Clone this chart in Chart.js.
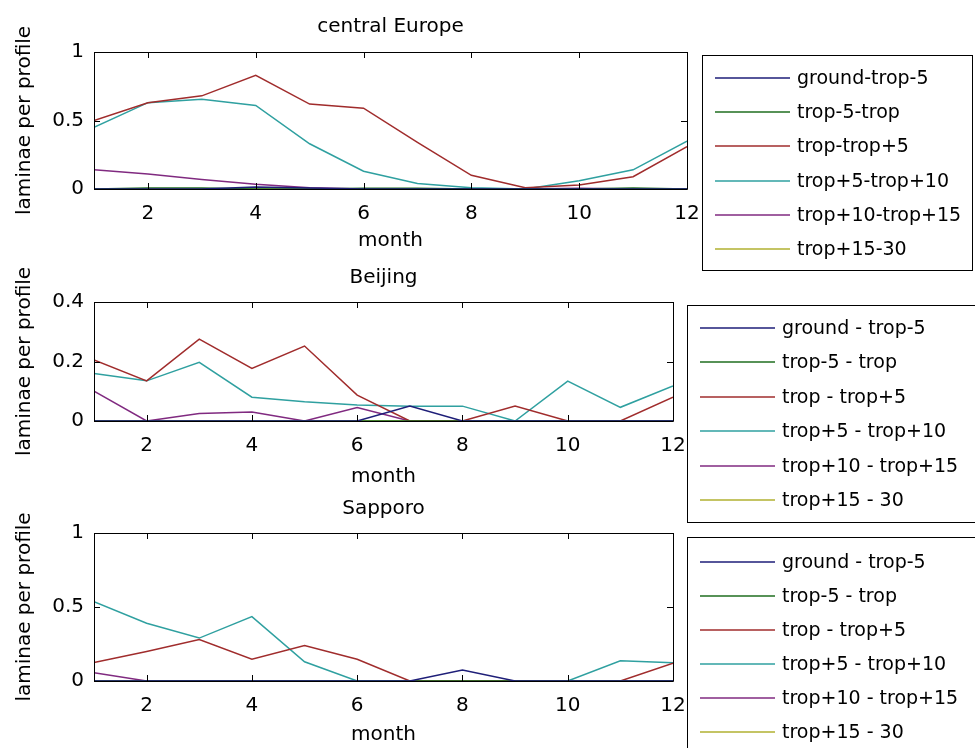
<!DOCTYPE html>
<html>
<head>
<meta charset="utf-8">
<title>laminae per profile by month</title>
<script src="https://cdn.jsdelivr.net/npm/chart.js@4/dist/chart.umd.min.js"></script>
<style>
  html, body { margin: 0; padding: 0; background: #fff; }
  #wrap { position: relative; width: 975px; height: 748px; overflow: hidden; background: #fff; }
  #wrap canvas { position: absolute; left: 0; top: 0; }
</style>
</head>
<body>
<div id="wrap">
  <canvas id="c1" width="975" height="748"></canvas>
  <canvas id="c2" width="975" height="748"></canvas>
  <canvas id="c3" width="975" height="748"></canvas>
</div>
<script>
// ---- data ----
const months = [1, 2, 3, 4, 5, 6, 7, 8, 9, 10, 11, 12];
const monthTicks = [2, 4, 6, 8, 10, 12];

const layerNamesEurope = ['ground-trop-5', 'trop-5-trop', 'trop-trop+5', 'trop+5-trop+10', 'trop+10-trop+15', 'trop+15-30'];
const layerNamesAsia = ['ground - trop-5', 'trop-5 - trop', 'trop - trop+5', 'trop+5 - trop+10', 'trop+10 - trop+15', 'trop+15 - 30'];
const layerColors = ['#1e1e78', '#1f6e1f', '#a02c2c', '#2fa0a0', '#802a80', '#b0b030'];

// central Europe
const europeTicksY = [0, 0.5, 1];
const europeGround = [0, 0, 0, 0.015, 0.008, 0, 0, 0, 0, 0, 0, 0];
const europeTrop5 = [0, 0.008, 0.008, 0, 0, 0.005, 0.005, 0, 0, 0, 0.008, 0];
const europeTropP5 = [0.50, 0.63, 0.68, 0.83, 0.62, 0.59, 0.34, 0.10, 0.01, 0.03, 0.09, 0.31];
const europeP5P10 = [0.45, 0.63, 0.655, 0.61, 0.33, 0.13, 0.04, 0.01, 0, 0.06, 0.14, 0.35];
const europeP10P15 = [0.14, 0.11, 0.07, 0.035, 0.01, 0, 0, 0, 0, 0.005, 0, 0];
const europeP15 = [0, 0, 0, 0, 0, 0, 0, 0, 0, 0, 0, 0];

// Beijing
const beijingTicksY = [0, 0.2, 0.4];
const beijingGround = [0, 0, 0, 0, 0, 0, 0.05, 0, 0, 0, 0, 0];
const beijingTrop5 = [0, 0, 0, 0, 0, 0, 0, 0, 0, 0, 0, 0];
const beijingTropP5 = [0.205, 0.135, 0.275, 0.177, 0.252, 0.087, 0, 0, 0.05, 0, 0, 0.08];
const beijingP5P10 = [0.16, 0.135, 0.197, 0.08, 0.065, 0.054, 0.05, 0.05, 0, 0.134, 0.046, 0.118];
const beijingP10P15 = [0.1, 0, 0.025, 0.03, 0, 0.045, 0, 0, 0, 0, 0, 0];
const beijingP15 = [0, 0, 0, 0, 0, 0, 0, 0, 0, 0, 0, 0];

// Sapporo
const sapporoTicksY = [0, 0.5, 1];
const sapporoGround = [0, 0, 0, 0, 0, 0, 0, 0.074, 0, 0, 0, 0];
const sapporoTrop5 = [0, 0, 0, 0, 0, 0, 0, 0, 0, 0, 0, 0];
const sapporoTropP5 = [0.125, 0.2, 0.28, 0.147, 0.24, 0.147, 0, 0, 0, 0, 0, 0.12];
const sapporoP5P10 = [0.536, 0.39, 0.29, 0.435, 0.13, 0, 0, 0, 0, 0, 0.137, 0.124];
const sapporoP10P15 = [0.056, 0, 0, 0, 0, 0, 0, 0, 0, 0, 0, 0];
const sapporoP15 = [0, 0, 0, 0, 0, 0, 0, 0, 0, 0, 0, 0];

// ---- drawing ----
const FONT = '"DejaVu Sans", sans-serif';
const W = 975, H = 748, XAXIS_H = 40, YAXIS_W = 94;
const LINE_W = 1.5;

function toPoints(values) {
  return months.map((m, i) => ({ x: m, y: values[i] }));
}

// Frame, inward ticks, title, axis labels and boxed legend in the style of the figure
const framePlugin = {
  id: 'frame',
  afterDatasetsDraw(chart, args, o) {
    const ctx = chart.ctx;
    const a = chart.chartArea;
    const xs = chart.scales.x, ys = chart.scales.y;
    ctx.save();
    ctx.strokeStyle = '#000';
    ctx.lineWidth = 1;
    ctx.beginPath();
    ctx.rect(Math.round(a.left) + 0.5, Math.round(a.top) + 0.5,
             Math.round(a.right - a.left), Math.round(a.bottom - a.top));
    ctx.stroke();
    const tl = 6;
    ctx.beginPath();
    xs.ticks.forEach(t => {
      const px = Math.round(xs.getPixelForValue(t.value)) + 0.5;
      ctx.moveTo(px, a.top); ctx.lineTo(px, a.top + tl);
      ctx.moveTo(px, a.bottom); ctx.lineTo(px, a.bottom - tl);
    });
    ys.ticks.forEach(t => {
      const py = Math.round(ys.getPixelForValue(t.value)) + 0.5;
      ctx.moveTo(a.left, py); ctx.lineTo(a.left + tl, py);
      ctx.moveTo(a.right, py); ctx.lineTo(a.right - tl, py);
    });
    ctx.stroke();

    // title and axis labels
    ctx.fillStyle = '#000';
    ctx.font = '20px ' + FONT;
    ctx.textAlign = 'center';
    ctx.textBaseline = 'alphabetic';
    const cx = (a.left + a.right) / 2;
    ctx.fillText(o.title, cx, o.titleBaseline);
    ctx.fillText('month', cx, o.xlabelBaseline);
    ctx.save();
    ctx.translate(o.ylabelX, (a.top + a.bottom) / 2);
    ctx.rotate(-Math.PI / 2);
    ctx.textBaseline = 'middle';
    ctx.fillText('laminae per profile', 0, 0);
    ctx.restore();

    // legend
    const L = o.legend;
    ctx.fillStyle = '#fff';
    ctx.fillRect(L.x, L.y, L.w, L.h);
    ctx.strokeStyle = '#000';
    ctx.lineWidth = 1;
    ctx.strokeRect(L.x + 0.5, L.y + 0.5, L.w, L.h);
    ctx.font = '19px ' + FONT;
    ctx.textAlign = 'left';
    ctx.textBaseline = 'middle';
    chart.data.datasets.forEach((ds, i) => {
      const y = Math.round(L.row0 + i * L.step);
      ctx.strokeStyle = ds.borderColor;
      ctx.lineWidth = LINE_W;
      ctx.beginPath();
      ctx.moveTo(L.lineX0, y); ctx.lineTo(L.lineX1, y);
      ctx.stroke();
      ctx.fillStyle = '#000';
      ctx.fillText(ds.label, L.textX, y + 1);
    });
    ctx.restore();
  }
};

function makePanel(canvasId, cfg) {
  const datasets = cfg.series.map((vals, i) => ({
    label: cfg.names[i],
    data: toPoints(vals),
    borderColor: layerColors[i],
    backgroundColor: layerColors[i],
    borderWidth: LINE_W,
    pointRadius: 0,
    tension: 0,
    fill: false
  }));
  return new Chart(document.getElementById(canvasId), {
    type: 'line',
    data: { datasets },
    plugins: [framePlugin],
    options: {
      responsive: false,
      animation: false,
      devicePixelRatio: 1,
      layout: {
        padding: {
          left: 0,
          top: cfg.area.top,
          right: W - cfg.area.right,
          bottom: H - cfg.area.bottom - XAXIS_H
        }
      },
      plugins: {
        legend: { display: false },
        tooltip: { enabled: false },
        frame: cfg.frame
      },
      scales: {
        x: {
          type: 'linear',
          min: 1, max: 12,
          grid: { display: false, drawTicks: false },
          border: { display: false },
          afterBuildTicks: s => { s.ticks = monthTicks.map(v => ({ value: v })); },
          afterFit: s => { s.height = XAXIS_H; },
          ticks: {
            color: '#000', padding: 13, maxRotation: 0, autoSkip: false,
            font: { family: FONT, size: 20 },
            callback: v => String(v)
          }
        },
        y: {
          type: 'linear',
          min: cfg.yTicks[0], max: cfg.yTicks[cfg.yTicks.length - 1],
          grid: { display: false, drawTicks: false },
          border: { display: false },
          afterBuildTicks: s => { s.ticks = cfg.yTicks.map(v => ({ value: v })); },
          afterFit: s => { s.width = YAXIS_W; },
          ticks: {
            color: '#000', padding: 10, autoSkip: false,
            font: { family: FONT, size: 20 },
            callback: v => String(Number(v.toFixed(2)))
          }
        }
      }
    }
  });
}

makePanel('c1', {
  names: layerNamesEurope,
  series: [europeGround, europeTrop5, europeTropP5, europeP5P10, europeP10P15, europeP15],
  yTicks: europeTicksY,
  area: { top: 52, bottom: 189, right: 687 },
  frame: {
    title: 'central Europe', titleBaseline: 32, xlabelBaseline: 246, ylabelX: 25,
    legend: { x: 702, y: 55, w: 270, h: 215, row0: 78, step: 34.2, lineX0: 715, lineX1: 790, textX: 797 }
  }
});

makePanel('c2', {
  names: layerNamesAsia,
  series: [beijingGround, beijingTrop5, beijingTropP5, beijingP5P10, beijingP10P15, beijingP15],
  yTicks: beijingTicksY,
  area: { top: 302, bottom: 421, right: 673 },
  frame: {
    title: 'Beijing', titleBaseline: 283, xlabelBaseline: 482, ylabelX: 25,
    legend: { x: 687, y: 305, w: 290, h: 217, row0: 328, step: 34.4, lineX0: 700, lineX1: 775, textX: 782 }
  }
});

makePanel('c3', {
  names: layerNamesAsia,
  series: [sapporoGround, sapporoTrop5, sapporoTropP5, sapporoP5P10, sapporoP10P15, sapporoP15],
  yTicks: sapporoTicksY,
  area: { top: 533, bottom: 681, right: 673 },
  frame: {
    title: 'Sapporo', titleBaseline: 514, xlabelBaseline: 740, ylabelX: 25,
    legend: { x: 687, y: 537, w: 290, h: 230, row0: 562, step: 34, lineX0: 700, lineX1: 775, textX: 782 }
  }
});
</script>
</body>
</html>
